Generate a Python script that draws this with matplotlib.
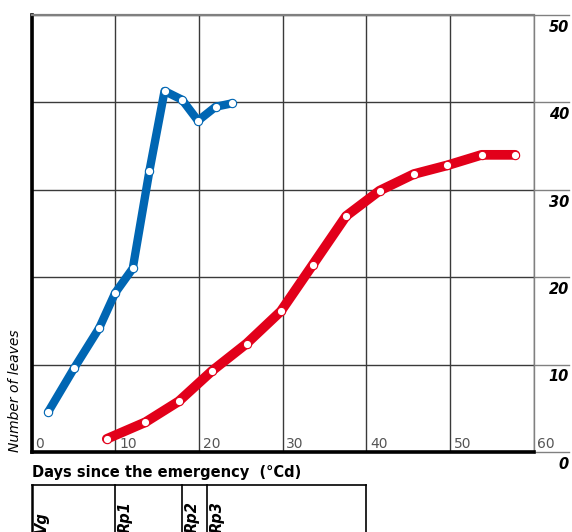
import matplotlib.pyplot as plt

# leaf counts against days since emergence
blue_days = [2.0, 5.1, 8.1, 10.0, 12.1, 14.1, 15.9, 18.0, 19.9, 22.0, 24.0]
blue_leaves = [4.6, 9.6, 14.2, 18.2, 21.0, 32.2, 41.3, 40.3, 37.9, 39.5, 39.9]

red_days = [9.0, 13.6, 17.6, 21.6, 25.7, 29.8, 33.6, 37.6, 41.6, 45.7, 49.7, 53.8, 57.8]
red_leaves = [1.5, 3.4, 5.8, 9.3, 12.4, 16.1, 21.4, 27.0, 29.9, 31.8, 32.8, 34.0, 34.0]

x_ticks = [0, 10, 20, 30, 40, 50, 60]
y_ticks = [0, 10, 20, 30, 40, 50]

# phenological stages shown under the axis
stage_names = ['Vg', 'Rp1', 'Rp2', 'Rp3']
stage_bounds = [0, 10, 18, 21, 40]

BLUE = '#0066b3'
RED = '#e2001a'
GRID = '#3a3a3a'
GREY = '#808080'

fig = plt.figure(figsize=(5.72, 5.32), dpi=100)
ax = fig.add_axes([0.0551, 0.1504, 0.8776, 0.8214])
ax.set_xlim(0, 60)
ax.set_ylim(0, 50)

ax.set_xticks(x_ticks)
ax.set_yticks(y_ticks)
ax.tick_params(length=0, labelbottom=False, labelleft=False)
ax.grid(True, color=GRID, linewidth=1.0, zorder=0)
ax.set_axisbelow(True)

ax.spines['left'].set_linewidth(2.6)
ax.spines['left'].set_color('black')
ax.spines['bottom'].set_linewidth(2.6)
ax.spines['bottom'].set_color('black')
ax.spines['top'].set_linewidth(1.6)
ax.spines['top'].set_color(GREY)
ax.spines['right'].set_linewidth(1.0)
ax.spines['right'].set_color(GREY)

for days, leaves, col, lw in [(blue_days, blue_leaves, BLUE, 6),
                              (red_days, red_leaves, RED, 7)]:
    ax.plot(days, leaves, color=col, linewidth=lw, solid_capstyle='round',
            solid_joinstyle='round', zorder=3)
    ax.plot(days, leaves, linestyle='none', marker='o', markersize=6,
            markerfacecolor='white', markeredgecolor=col, markeredgewidth=0.8,
            zorder=4)

# x labels sit inside the plot, right of each grid line
for x in x_ticks:
    ax.text(x + 0.45, 0.45, str(x), color='#555555', fontsize=10,
            ha='left', va='baseline', clip_on=False)

# y labels on the right, under extended grid lines
ytrans = ax.get_yaxis_transform()
for y in y_ticks:
    ax.plot([1.0, 1.07], [y, y], color=GREY, linewidth=1.0,
            transform=ytrans, clip_on=False)
    ax.text(1.0707, y - 0.55, str(y), transform=ytrans, ha='right', va='top',
            fontsize=10.5, fontweight='bold', fontstyle='italic')

ax.text(-2.0, 0.0, 'Number of leaves', rotation=90, fontsize=10,
        fontstyle='italic', ha='center', va='bottom', clip_on=False)

ax.text(0.0, -2.85, 'Days since the emergency  (°Cd)', fontsize=10.5,
        fontweight='bold', ha='left', va='baseline', clip_on=False)

# stage box below the axis
box_top = -3.78
box_bottom = -12
ax.plot([stage_bounds[0], stage_bounds[-1]], [box_top, box_top],
        color='black', linewidth=1.2, clip_on=False)
for b in stage_bounds:
    ax.plot([b, b], [box_top, box_bottom], color='black',
            linewidth=1.8 if b == 0 else 1.2, clip_on=False)
for name, left in zip(stage_names, stage_bounds[:-1]):
    ax.text(left + 0.3, -9.3, name, rotation=90, fontsize=10.5,
            fontweight='bold', fontstyle='italic', ha='left', va='bottom',
            clip_on=False)

fig.savefig('out.png', dpi=100)
